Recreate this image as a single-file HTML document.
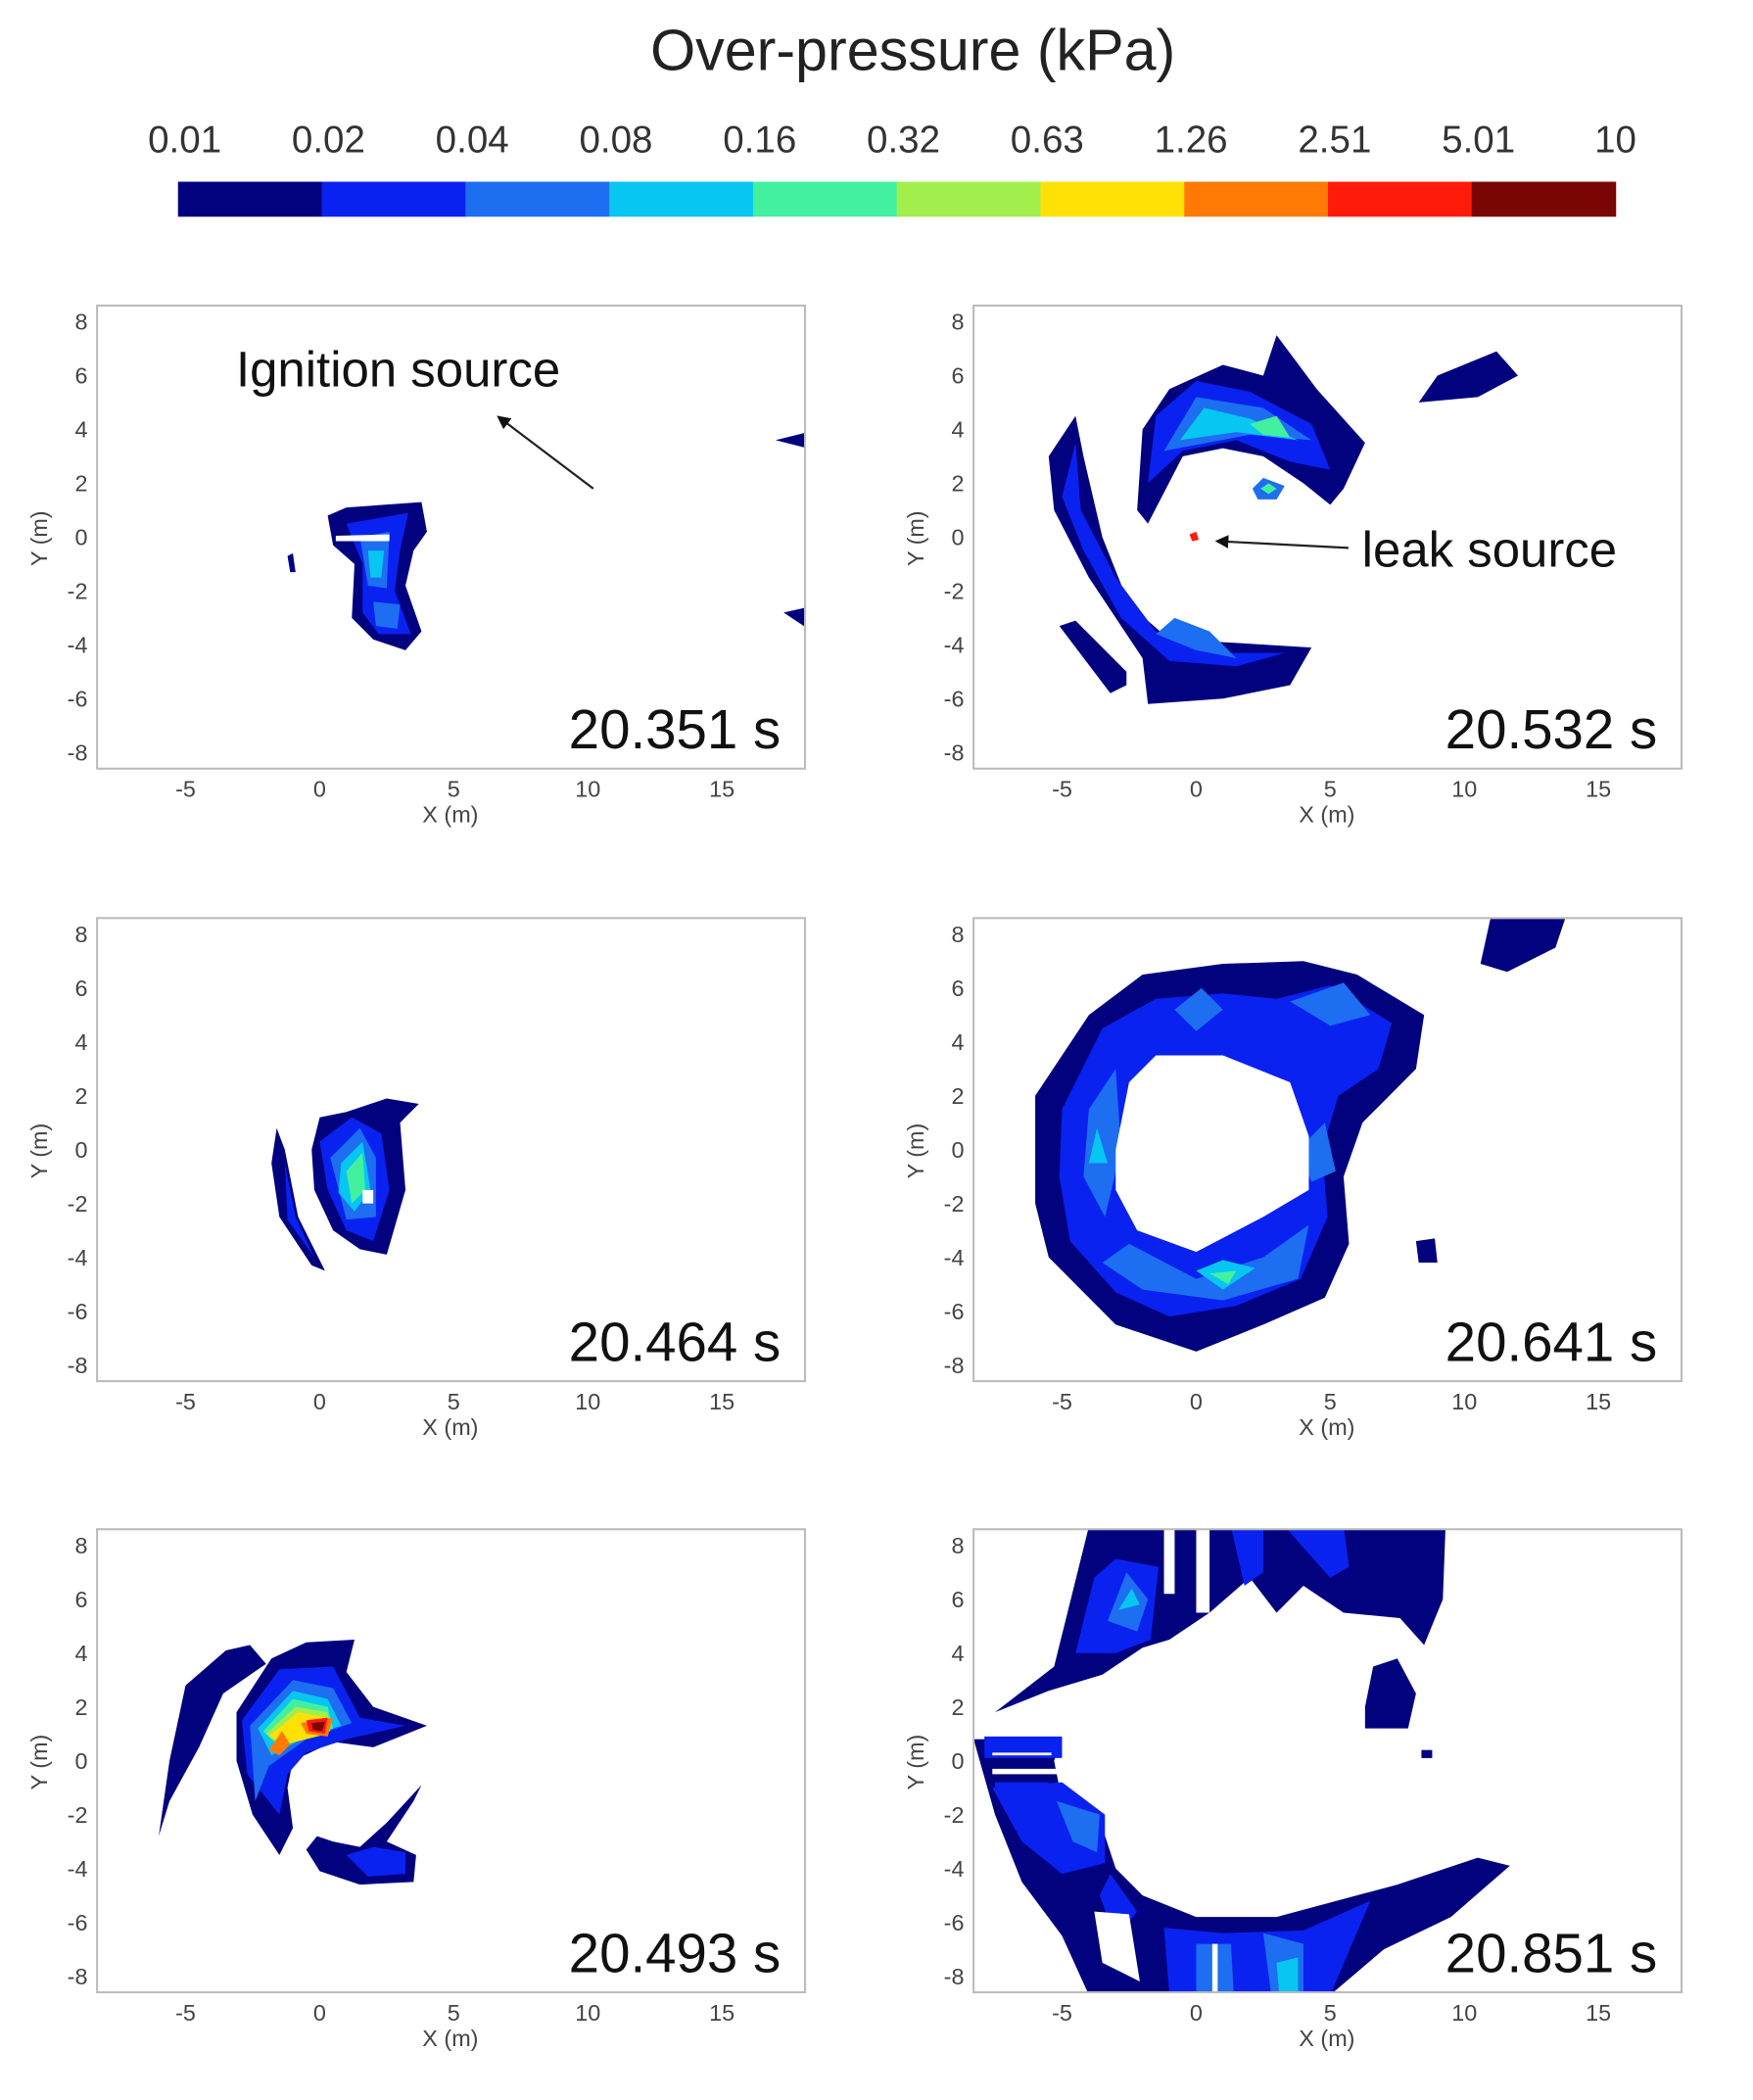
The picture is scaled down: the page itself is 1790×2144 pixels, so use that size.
<!DOCTYPE html>
<html><head><meta charset="utf-8"><style>
html,body{margin:0;padding:0;background:#fff;}
svg{display:block;font-family:"Liberation Sans",sans-serif;}
</style></head><body>
<svg id="fig" width="1790" height="2144" viewBox="0 0 1300 1560" preserveAspectRatio="none" xmlns="http://www.w3.org/2000/svg">
<text x="677" y="52" font-size="43" text-anchor="middle" fill="#222">Over-pressure (kPa)</text>
<g id="cbar"></g>
<g id="panels"></g>
</svg>
<script>
const levelLabels = ["0.01","0.02","0.04","0.08","0.16","0.32","0.63","1.26","2.51","5.01","10"];
const levelColors = ["#02027f","#0a22f0","#1d6ef0","#07c6f2","#42f0a0","#a2ee4c","#ffe105","#ff7a05","#ff1a0a","#7a0505"];
const xTicks = [-5,0,5,10,15];
const yTicks = [8,6,4,2,0,-2,-4,-6,-8];
const panelTimes = ["20.351 s","20.532 s","20.464 s","20.641 s","20.493 s","20.851 s"];
const shapes0 = [
 [0,[[0.3,0.8],[1,1.1],[3.8,1.3],[4,0.2],[3.5,-0.5],[3.2,-1.8],[3.8,-3.5],[3.2,-4.2],[2,-3.8],[1.2,-3],[1.3,-1],[0.5,-0.3]]],
 [1,[[1,0.5],[3.3,0.9],[3,-0.5],[2.8,-2],[3.4,-3.6],[2.2,-3.6],[1.6,-2.8],[1.6,-1]]],
 [2,[[1.5,0],[2.6,0.2],[2.5,-1.9],[1.8,-1.8]]],
 [3,[[1.8,-0.5],[2.4,-0.5],[2.3,-1.5],[1.9,-1.5]]],
 [2,[[2,-2.4],[3,-2.5],[2.9,-3.4],[2.1,-3.3]]],
 [-1,[[0.6,0.05],[2.6,0.1],[2.6,-0.15],[0.6,-0.15]]],
 [0,[[-1.2,-0.7],[-1.0,-0.6],[-0.9,-1.3],[-1.1,-1.3]]],
 [0,[[17,3.6],[18.2,3.9],[18.2,3.3]]],
 [0,[[17.3,-2.8],[18.2,-2.6],[18.2,-3.4]]]
];
const shapes1 = [
 [0,[[-4.5,4.5],[-4.2,3],[-3.5,0],[-2.5,-2.5],[-1,-3.8],[1,-3.9],[4.3,-4.1],[3.5,-5.5],[1,-6],[-1.8,-6.2],[-2,-4.5],[-4,-1.5],[-5.3,1],[-5.5,3]]],
 [1,[[-4.5,3.5],[-4.3,1],[-3,-1.5],[-1.5,-3.5],[0.5,-4.3],[3.3,-4.3],[1.5,-4.8],[-1,-4.6],[-2.8,-3],[-4.2,-0.5],[-5,1.5]]],
 [2,[[-1.5,-3.6],[0,-4.2],[1.5,-4.5],[0.5,-3.5],[-0.8,-3]]],
 [0,[[-5.1,-3.3],[-3.2,-5.8],[-2.6,-5.5],[-2.6,-5.0],[-4.5,-3.1]]],
 [0,[[-2.2,1],[-2,4],[-1,5.5],[1,6.4],[2.5,6],[3,7.5],[4.5,5.5],[6.3,3.5],[5.5,1.8],[5,1.2],[4,2],[2.5,3],[1,3.3],[-0.5,3],[-1.8,0.5]]],
 [1,[[-1.8,2],[-1.5,4.5],[0,5.8],[2,5.4],[4.3,4.2],[5,2.5],[3.5,2.8],[1.5,3.6],[-0.5,3.2]]],
 [2,[[-1.2,3.2],[0,5.2],[2.5,4.8],[4.3,3.6],[2,3.8]]],
 [3,[[-0.6,3.6],[0.3,4.8],[2,4.4],[3.8,3.6],[1.5,3.9]]],
 [4,[[2,4.2],[3,4.5],[3.5,3.7],[2.5,3.8]]],
 [0,[[8.3,5],[9,6],[11.2,6.9],[12,6],[10.5,5.2]]],
 [2,[[2.1,1.8],[2.5,2.2],[3.3,1.9],[3.0,1.4],[2.3,1.4]]],
 [4,[[2.4,1.8],[2.7,2.0],[3.0,1.8],[2.7,1.6]]],
 [8,[[-0.25,0.1],[0,0.2],[0.1,-0.1],[-0.15,-0.15]]]
];
const shapes2 = [
 [0,[[-1.6,0.8],[-1.3,0],[-0.8,-2.5],[0.2,-4.5],[-0.3,-4.3],[-1.5,-2.5],[-1.8,-0.5]]],
 [1,[[-1.3,-0.5],[-0.9,-2.5],[-0.2,-4],[-1.2,-2.6]]],
 [0,[[-0.3,0],[0,1.2],[1,1.4],[2.5,1.9],[3.7,1.7],[3,1],[3.2,-1.5],[2.5,-3.9],[1.5,-3.7],[0.5,-3],[-0.2,-1.5]]],
 [1,[[0,0.3],[1.2,1.2],[2.3,0.6],[2.6,-1.5],[2,-3.4],[1,-3],[0.3,-1.5]]],
 [2,[[0.4,-0.3],[1.5,0.8],[2.1,-0.3],[2.1,-2.5],[1,-2.6]]],
 [3,[[0.8,-0.5],[1.6,0.3],[1.9,-1.5],[1.3,-2.3],[0.7,-1.6]]],
 [4,[[1,-0.8],[1.6,-0.1],[1.7,-1.5],[1.2,-2]]],
 [-1,[[1.6,-1.5],[2.0,-1.5],[2.0,-2.0],[1.6,-2.0]]]
];
const shapes3 = [
 [0,[[-6,2],[-4,5],[-2,6.5],[1,6.9],[4,7],[6,6.5],[8.5,5],[8.2,3],[7,1.8],[6.2,1],[5.5,-1],[5.7,-3.5],[4.8,-5.5],[2.5,-6.5],[0,-7.5],[-3,-6.5],[-5.5,-4],[-6,-2]]],
 [1,[[-5,1.5],[-3.5,4.5],[-1.5,5.6],[1,5.8],[3,5.6],[5,6.1],[7.3,4.7],[6.8,3],[5.3,2],[4.7,0],[4.9,-2.5],[3.9,-4.8],[1.5,-5.8],[-1,-6.2],[-3,-5.3],[-4.7,-3.4],[-5.1,-1]]],
 [2,[[-2.5,-3.5],[0,-4.8],[2.5,-4],[4.2,-2.8],[3.8,-4.8],[1,-5.6],[-2,-5.2],[-3.5,-4.2]]],
 [2,[[-3.4,-2.5],[-4.2,-1],[-4,1.5],[-3,3],[-2.8,0]]],
 [2,[[3.5,5.5],[5.5,6.2],[6.5,5],[5,4.6]]],
 [2,[[-0.8,5.2],[0.2,6],[1,5.2],[0,4.4]]],
 [3,[[-4,-0.5],[-3.7,0.8],[-3.3,-0.5]]],
 [3,[[0,-4.5],[1,-5.2],[2.2,-4.4],[1,-4.1]]],
 [4,[[0.5,-4.6],[1.2,-5],[1.5,-4.5]]],
 [2,[[3.8,0],[4.8,1],[5.2,-0.8],[4.3,-1.2]]],
 [-1,[[-3,0],[-2.5,2.5],[-1.5,3.5],[1,3.5],[3.5,2.5],[4.2,0.5],[4.2,-1.5],[2.5,-2.5],[0,-3.8],[-2.2,-3],[-3,-1.5]]],
 [0,[[10.6,6.9],[11,8.7],[13.8,8.7],[13.4,7.5],[11.6,6.6]]],
 [0,[[8.2,-3.4],[8.9,-3.3],[9,-4.2],[8.3,-4.2]]]
];
const shapes4 = [
 [0,[[-6,-2.8],[-5.6,0],[-5,2.8],[-3.5,4.1],[-2.6,4.3],[-2.0,3.6],[-3.6,2.5],[-4.5,0.5],[-5.6,-1.5]]],
 [0,[[-3.1,1.8],[-1.8,3.8],[-0.5,4.4],[1.3,4.5],[1,3.3],[2,2],[4,1.3],[2,0.5],[0.5,0.7],[-1,0],[-1.2,-1],[-1,-2.5],[-1.5,-3.5],[-2.5,-2],[-3.1,0]]],
 [1,[[-2.9,1.5],[-1.5,3.4],[0.5,3.5],[1.5,1.6],[3.2,1.3],[1,0.8],[-0.5,0.3],[-1.2,-0.5],[-1.5,-2],[-2.7,-0.5]]],
 [2,[[-2.6,1.3],[-1,3],[0.5,2.7],[1.2,1.4],[-0.5,0.8],[-1.9,-0.2],[-2.4,-1.5]]],
 [3,[[-2.3,1.2],[-1,2.6],[0.3,2.3],[0.8,1.3],[-0.5,0.9],[-1.8,0.2]]],
 [4,[[-2.1,1.1],[-1,2.3],[0.3,2],[0.5,1.2],[-1.5,0.5]]],
 [5,[[-2,1],[-0.9,2],[0.3,1.8],[0.4,1.1],[-1.4,0.6]]],
 [6,[[-1.9,0.9],[-0.8,1.8],[0.3,1.6],[0.3,1],[-1.3,0.6]]],
 [7,[[-1.9,0.4],[-1.4,1.1],[-1.1,0.6],[-1.5,0.2]]],
 [7,[[-0.7,1.4],[0.5,1.6],[0.3,0.9],[-0.5,1.0]]],
 [8,[[-0.5,1.5],[0.3,1.6],[0.2,1.0],[-0.4,1.1]]],
 [9,[[-0.3,1.4],[0.2,1.45],[0.1,1.1],[-0.25,1.15]]],
 [0,[[-0.5,-3.3],[0,-4.1],[1.5,-4.6],[3.5,-4.5],[3.6,-3.5],[2.5,-3],[3.5,-1.5],[3.8,-0.9],[2.5,-2.3],[1.5,-3.2],[0.5,-3],[-0.1,-2.8]]],
 [1,[[1,-3.5],[1.8,-4.3],[3.2,-4.2],[3.2,-3.4],[2,-3.2]]]
];
const shapes5 = [
 [0,[[-7.5,1.8],[-5.3,3.5],[-4,8.7],[9.3,8.7],[9.2,6],[8.5,4.3],[7.6,5.3],[5.5,5.5],[4,6.5],[3,5.5],[2,6.8],[0.5,5.5],[-1,4.5],[-2,4.2],[-3.5,3.2],[-5.5,2.6]]],
 [1,[[-4.5,4],[-3.8,6.8],[-3,7.5],[-1.4,7.2],[-1.7,4.5],[-3,4]]],
 [2,[[-3.3,5.2],[-2.6,7],[-1.8,6],[-2.2,4.8]]],
 [3,[[-2.9,5.6],[-2.4,6.4],[-2.1,5.8]]],
 [1,[[3.3,8.7],[5.5,8.7],[5.7,7.2],[5,6.8]]],
 [1,[[1.3,8.7],[2.5,8.7],[2.5,7],[1.8,6.5]]],
 [-1,[[0,8.6],[0.5,8.6],[0.5,5.5],[0,5.5]]],
 [-1,[[-1.2,8.6],[-0.8,8.6],[-0.8,6.2],[-1.2,6.2]]],
 [0,[[6.3,2],[6.6,3.5],[7.5,3.8],[8.2,2.5],[7.9,1.2],[6.3,1.2]]],
 [0,[[8.4,0.4],[8.8,0.4],[8.8,0.1],[8.4,0.1]]],
 [0,[[-8.3,0.8],[-7.5,-2],[-6.5,-4.5],[-5,-6.5],[-4,-8.7],[5,-8.7],[7,-7],[9.5,-5.8],[11.7,-3.9],[10.5,-3.6],[7.5,-4.6],[3,-5.8],[0,-5.8],[-2,-5],[-3,-4],[-3.5,-2.5],[-5,-1.5],[-5.3,0],[-5,0.8]]],
 [1,[[-7.6,-1],[-5,-0.8],[-3.4,-2],[-3.4,-3.8],[-5,-4.2],[-6.5,-3]]],
 [2,[[-5.2,-1.5],[-3.6,-2],[-3.7,-3.4],[-4.6,-3]]],
 [1,[[-3.2,-4.2],[-2.2,-5.6],[-3,-6.6],[-3.6,-5]]],
 [1,[[-1.2,-6.2],[1,-6.4],[4,-6.3],[6.5,-5.2],[5,-8.7],[-1,-8.7]]],
 [2,[[0,-6.8],[1.3,-6.8],[1.4,-8.7],[0,-8.7]]],
 [2,[[2.5,-6.4],[4,-6.8],[4,-8.7],[2.8,-8.7]]],
 [3,[[3,-7.5],[3.8,-7.3],[3.8,-8.7],[3.1,-8.7]]],
 [-1,[[-3.8,-5.6],[-2.5,-5.7],[-2.1,-8.2],[-3.5,-7.5]]],
 [-1,[[0.6,-6.8],[0.8,-6.8],[0.8,-8.7],[0.6,-8.7]]],
 [1,[[-7.9,0.9],[-5,0.9],[-5,0.1],[-7.9,0.1]]],
 [-1,[[-7.6,0.3],[-5.4,0.3],[-5.4,0.2],[-7.6,0.2]]],
 [-1,[[-7.6,-0.3],[-5.2,-0.3],[-5.2,-0.5],[-7.6,-0.5]]],
 [1,[[-7.5,-0.8],[-5.5,-0.8],[-5.5,-1],[-7.5,-1]]]
];
const allShapes = [shapes0,shapes1,shapes2,shapes3,shapes4,shapes5];

const NS = "http://www.w3.org/2000/svg";
function mk(tag, attrs, parent){const e=document.createElementNS(NS,tag);for(const k in attrs)e.setAttribute(k,attrs[k]);parent.appendChild(e);return e;}

const cb=document.getElementById('cbar');
const cbX0=132, cbX1=1198, cbY=135, cbH=26;
const cbW=(cbX1-cbX0)/levelColors.length;
levelColors.forEach((c,i)=>{
  const r=mk('rect',{x:cbX0+i*cbW,y:cbY,width:cbW+0.5,height:cbH,fill:c},cb);
  
  
});
levelLabels.forEach((l,i)=>{
  const t=mk('text',{x:cbX0+i*cbW+(i===levelLabels.length-1?0:5),y:113,'font-size':28,'text-anchor':'middle',fill:'#333'},cb);
  t.textContent=l;
  
  
});

const panelsG=document.getElementById('panels');
const lefts=[72,722], tops=[227,682,1136];
const PW=525, PH=344;
const xMin=-8.3, xMax=18.1, yMin=-8.6, yMax=8.6;
allShapes.forEach((shapes,pi)=>{
  const px=lefts[pi%2], py=tops[Math.floor(pi/2)];
  const sx=v=>px+(v-xMin)/(xMax-xMin)*PW;
  const sy=v=>py+(yMax-v)/(yMax-yMin)*PH;
  const g=mk('g',{},panelsG);
  
  
  const cid='clip'+pi;
  const cp=mk('clipPath',{id:cid},g);
  mk('rect',{x:px,y:py,width:PW,height:PH},cp);
  const sg=mk('g',{'clip-path':'url(#'+cid+')'},g);
  shapes.forEach(s=>{
    const pts=s[1].map(p=>sx(p[0]).toFixed(1)+','+sy(p[1]).toFixed(1)).join(' ');
    const poly=mk('polygon',{points:pts,fill:s[0]<0?'#fff':levelColors[s[0]],'stroke-linejoin':'round'},sg);
    
    
  });
  const fr=mk('rect',{x:px,y:py,width:PW,height:PH,fill:'none',stroke:'#bbb','stroke-width':1.5},g);
  
  
  xTicks.forEach(v=>{
    const t=mk('text',{x:sx(v),y:py+PH+21,'font-size':17,'text-anchor':'middle',fill:'#444'},g);
    t.textContent=v;
    
    
  });
  yTicks.forEach(v=>{
    const t=mk('text',{x:px-7,y:sy(v)+6,'font-size':17,'text-anchor':'end',fill:'#444'},g);
    t.textContent=v;
    
    
  });
  const xl=mk('text',{x:px+262,y:py+PH+40,'font-size':17,'text-anchor':'middle',fill:'#444'},g);
  xl.textContent='X (m)';
  
  
  const yl=mk('text',{x:0,y:0,'font-size':17,'text-anchor':'middle',fill:'#444',transform:'translate('+(px-37)+','+(py+173)+') rotate(-90)'},g);
  yl.textContent='Y (m)';
  
  
  const tt=mk('text',{x:px+507,y:py+PH-15,'font-size':41,'text-anchor':'end',fill:'#111'},g);
  tt.textContent=panelTimes[pi];
  
  
});

const svg=document.getElementById('fig');
const defs=mk('defs',{},svg);
const mk1=mk('marker',{id:'ah',markerWidth:10,markerHeight:10,refX:8,refY:5,orient:'auto',markerUnits:'userSpaceOnUse'},defs);
mk('path',{d:'M0,0 L10,5 L0,10 Z',fill:'#111'},mk1);
const a1=mk('text',{x:175,y:287,'font-size':37,fill:'#111'},svg);
a1.textContent='Ignition source';


const l1=mk('line',{x1:440,y1:363,x2:370,y2:310,stroke:'#222','stroke-width':1.6,'marker-end':'url(#ah)'},svg);


const a2=mk('text',{x:1010,y:421,'font-size':37,fill:'#111'},svg);
a2.textContent='leak source';


const l2=mk('line',{x1:1000,y1:407,x2:903,y2:402,stroke:'#222','stroke-width':1.6,'marker-end':'url(#ah)'},svg);


</script>
</body></html>
